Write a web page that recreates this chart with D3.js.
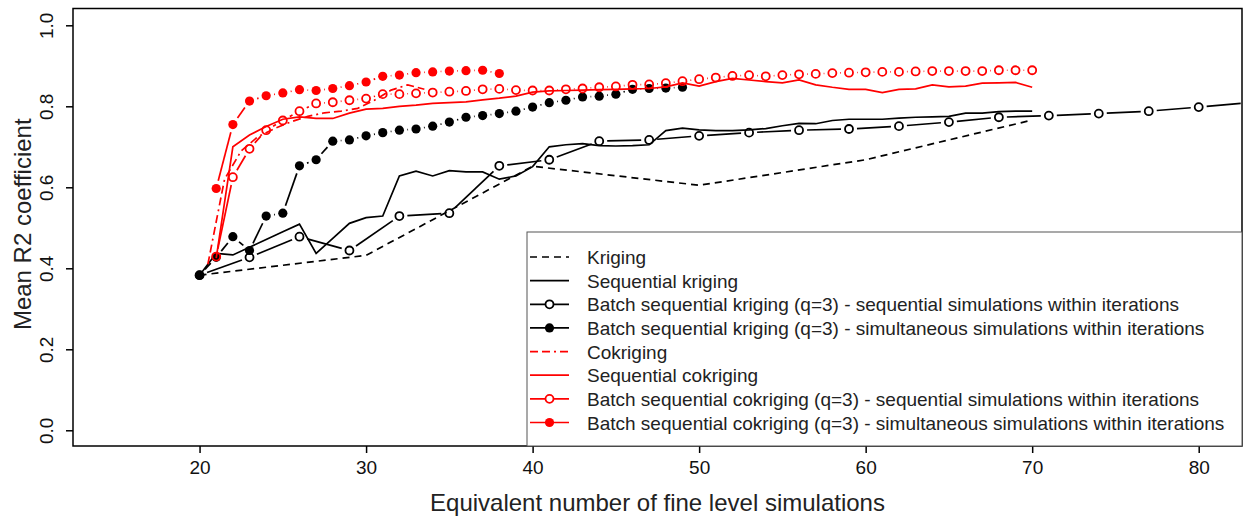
<!DOCTYPE html>
<html>
<head>
<meta charset="utf-8">
<script src="https://cdn.jsdelivr.net/npm/d3@7"></script>
<style>
  body { margin: 0; background: #fff; }
  text { font-family: "Liberation Sans", Arial, sans-serif; }
</style>
</head>
<body>
<script>
// values
const krigX = [20, 30, 40, 50, 60, 70];
const krigY = [0.383, 0.432, 0.652, 0.605, 0.668, 0.766];

const seqKrigX = d3.range(20, 71);
const seqKrigY = [0.383, 0.437, 0.433, 0.452, 0.471, 0.490, 0.509, 0.437, 0.474, 0.511,
  0.525, 0.529, 0.628, 0.640, 0.628, 0.641, 0.638, 0.638, 0.620, 0.628,
  0.651, 0.700, 0.705, 0.708, 0.703, 0.702, 0.703, 0.705, 0.740, 0.746,
  0.742, 0.740, 0.740, 0.742, 0.745, 0.752, 0.758, 0.757, 0.765, 0.768,
  0.768, 0.768, 0.771, 0.773, 0.774, 0.775, 0.783, 0.783, 0.787, 0.788, 0.788];

const batchKrigSeqX = [20, 23, 26, 29, 32, 35, 38, 41, 44, 47, 50, 53, 56, 59, 62, 65, 68, 71, 74, 77, 80, 83];
const batchKrigSeqY = [0.383, 0.427, 0.478, 0.444, 0.529, 0.536, 0.653, 0.668, 0.714, 0.717,
  0.727, 0.735, 0.741, 0.744, 0.751, 0.761, 0.773, 0.777, 0.782, 0.788, 0.798, 0.809];

const batchKrigSimX = d3.range(20, 50);
const batchKrigSimY = [0.383, 0.427, 0.478, 0.444, 0.529, 0.536, 0.653, 0.668, 0.714, 0.717,
  0.727, 0.735, 0.741, 0.744, 0.751, 0.761, 0.773, 0.777, 0.782, 0.788,
  0.798, 0.809, 0.815, 0.823, 0.825, 0.830, 0.842, 0.844, 0.845, 0.847];

const cokX = [20.5, 21.5, 22.5, 23.5, 24.5, 25.5, 26.5, 27.5, 28.5, 29.5, 30.5, 31.5, 32.5, 33.5];
const cokY = [0.410, 0.620, 0.690, 0.725, 0.745, 0.762, 0.775, 0.784, 0.788, 0.795, 0.815, 0.840, 0.853, 0.842];

const seqCokX = d3.range(21, 71);
const seqCokY = [0.425, 0.700, 0.729, 0.750, 0.768, 0.774, 0.770, 0.770, 0.783, 0.793,
  0.795, 0.800, 0.803, 0.807, 0.809, 0.811, 0.816, 0.820, 0.825, 0.835,
  0.838, 0.839, 0.840, 0.841, 0.842, 0.843, 0.844, 0.848, 0.858, 0.850,
  0.861, 0.869, 0.865, 0.861, 0.858, 0.865, 0.853, 0.847, 0.842, 0.842,
  0.834, 0.842, 0.843, 0.853, 0.848, 0.850, 0.857, 0.858, 0.859, 0.847];

const batchCokSeqX = d3.range(21, 71);
const batchCokSeqY = [0.429, 0.625, 0.695, 0.741, 0.765, 0.788, 0.807, 0.810, 0.815, 0.819,
  0.830, 0.830, 0.832, 0.834, 0.836, 0.838, 0.842, 0.843, 0.840, 0.839,
  0.839, 0.842, 0.844, 0.847, 0.849, 0.853, 0.854, 0.857, 0.862, 0.867,
  0.871, 0.875, 0.877, 0.874, 0.877, 0.879, 0.880, 0.882, 0.883, 0.884,
  0.885, 0.885, 0.886, 0.887, 0.887, 0.887, 0.887, 0.889, 0.889, 0.889];

const batchCokSimX = d3.range(21, 39);
const batchCokSimY = [0.597, 0.755, 0.813, 0.826, 0.833, 0.841, 0.839, 0.844, 0.851, 0.860,
  0.874, 0.877, 0.883, 0.885, 0.887, 0.888, 0.889, 0.881];

const xTicks = [20, 30, 40, 50, 60, 70, 80];
const yTicks = [0, 0.2, 0.4, 0.6, 0.8, 1.0];

const series = [
  { name: "Kriging", x: krigX, y: krigY, color: "black", dash: "7,5", type: "l" },
  { name: "Sequential kriging", x: seqKrigX, y: seqKrigY, color: "black", dash: null, type: "l" },
  { name: "Batch sequential kriging (q=3) - sequential simulations within iterations", x: batchKrigSeqX, y: batchKrigSeqY, color: "black", dash: null, type: "b", fill: false },
  { name: "Batch sequential kriging (q=3) - simultaneous simulations within iterations", x: batchKrigSimX, y: batchKrigSimY, color: "black", dash: null, type: "b", fill: true },
  { name: "Cokriging", x: cokX, y: cokY, color: "red", dash: "8,4,8,4,2,4", type: "l" },
  { name: "Sequential cokriging", x: seqCokX, y: seqCokY, color: "red", dash: null, type: "l" },
  { name: "Batch sequential cokriging (q=3) - sequential simulations within iterations", x: batchCokSeqX, y: batchCokSeqY, color: "red", dash: null, type: "b", fill: false },
  { name: "Batch sequential cokriging (q=3) - simultaneous simulations within iterations", x: batchCokSimX, y: batchCokSimY, color: "red", dash: null, type: "b", fill: true }
];

const width = 1244, height = 517;
const box = { left: 73, right: 1242, top: 8.5, bottom: 446 };

const svg = d3.select("body").append("svg")
  .attr("width", width)
  .attr("height", height);

const x = d3.scaleLinear().domain([12.4, 82.6]).range([box.left, box.right]);
const y = d3.scaleLinear().domain([-0.0388, 1.0415]).range([box.bottom, box.top]);

svg.append("clipPath").attr("id", "clip")
  .append("rect")
  .attr("x", box.left).attr("y", box.top)
  .attr("width", box.right - box.left).attr("height", box.bottom - box.top);

const plot = svg.append("g").attr("clip-path", "url(#clip)");

const lineGen = d3.line().x(d => x(d[0])).y(d => y(d[1]));
const gap = 8;

series.forEach(s => {
  const pts = s.x.map((v, i) => [v, s.y[i]]);
  if (s.type === "l") {
    plot.append("path")
      .attr("d", lineGen(pts))
      .attr("fill", "none")
      .attr("stroke", s.color)
      .attr("stroke-width", 1.7)
      .attr("stroke-dasharray", s.dash);
  } else {
    // R type="b": segments stop short of each point
    for (let i = 0; i < pts.length - 1; i++) {
      const x1 = x(pts[i][0]), y1 = y(pts[i][1]);
      const x2 = x(pts[i + 1][0]), y2 = y(pts[i + 1][1]);
      const d = Math.hypot(x2 - x1, y2 - y1);
      if (d <= 2 * gap) continue;
      const ux = (x2 - x1) / d, uy = (y2 - y1) / d;
      plot.append("line")
        .attr("x1", x1 + ux * gap).attr("y1", y1 + uy * gap)
        .attr("x2", x2 - ux * gap).attr("y2", y2 - uy * gap)
        .attr("stroke", s.color)
        .attr("stroke-width", 1.7);
    }
    plot.selectAll(null)
      .data(pts)
      .enter()
      .append("circle")
      .attr("cx", d => x(d[0]))
      .attr("cy", d => y(d[1]))
      .attr("r", s.fill ? 4.6 : 4)
      .attr("fill", s.fill ? s.color : "none")
      .attr("stroke", s.fill ? "none" : s.color)
      .attr("stroke-width", 1.8);
  }
});

// box
svg.append("rect")
  .attr("x", box.left).attr("y", box.top)
  .attr("width", box.right - box.left).attr("height", box.bottom - box.top)
  .attr("fill", "none")
  .attr("stroke", "black")
  .attr("stroke-width", 1.5);

// x axis
const xAxis = svg.append("g")
  .attr("transform", `translate(0,${box.bottom})`)
  .call(d3.axisBottom(x).tickValues(xTicks).tickSize(7).tickPadding(8).tickFormat(d3.format("d")));
xAxis.select(".domain").remove();
xAxis.selectAll("line").attr("stroke-width", 1.5);
xAxis.selectAll("text").attr("font-size", 19).attr("fill", "#111")
  .style("font-family", "'Liberation Sans', Arial, sans-serif");

// y axis (labels rotated, as in R)
const yAxis = svg.append("g")
  .attr("transform", `translate(${box.left},0)`)
  .call(d3.axisLeft(y).tickValues(yTicks).tickSize(7).tickFormat(d3.format(".1f")));
yAxis.select(".domain").remove();
yAxis.selectAll("line").attr("stroke-width", 1.5);
yAxis.selectAll("text")
  .attr("x", null).attr("dy", null)
  .attr("text-anchor", "middle")
  .attr("transform", "translate(-20,0) rotate(-90)")
  .attr("font-size", 19).attr("fill", "#111")
  .style("font-family", "'Liberation Sans', Arial, sans-serif");

// titles
svg.append("text")
  .attr("x", (box.left + box.right) / 2)
  .attr("y", 511)
  .attr("text-anchor", "middle")
  .attr("font-size", 24)
  .attr("fill", "#222")
  .text("Equivalent number of fine level simulations");

svg.append("text")
  .attr("transform", `translate(31,${(box.top + box.bottom) / 2 - 3}) rotate(-90)`)
  .attr("text-anchor", "middle")
  .attr("font-size", 24)
  .attr("fill", "#222")
  .text("Mean R2 coefficient");

// legend
const legendBox = { left: 527, top: 232 };
svg.append("rect")
  .attr("x", legendBox.left).attr("y", legendBox.top)
  .attr("width", box.right - legendBox.left).attr("height", box.bottom - legendBox.top)
  .attr("fill", "white")
  .attr("stroke", "#555")
  .attr("stroke-width", 1);

const legendRow = d3.scaleLinear().domain([0, 7]).range([257, 422.5]);

const legend = svg.selectAll(".legend-item")
  .data(series)
  .enter()
  .append("g")
  .attr("class", "legend-item")
  .attr("transform", (d, i) => `translate(0,${legendRow(i)})`);

legend.append("line")
  .attr("x1", 530).attr("x2", 569)
  .attr("y1", 0).attr("y2", 0)
  .attr("stroke", d => d.color)
  .attr("stroke-width", 1.7)
  .attr("stroke-dasharray", d => d.dash);

legend.filter(d => d.type === "b")
  .append("circle")
  .attr("cx", 549.5).attr("cy", 0)
  .attr("r", d => d.fill ? 4.6 : 4)
  .attr("fill", d => d.fill ? d.color : "white")
  .attr("stroke", d => d.fill ? "none" : d.color)
  .attr("stroke-width", 1.8);

legend.append("text")
  .attr("x", 587)
  .attr("y", 7)
  .attr("font-size", 19)
  .attr("fill", "#222")
  .text(d => d.name);
</script>
</body>
</html>
